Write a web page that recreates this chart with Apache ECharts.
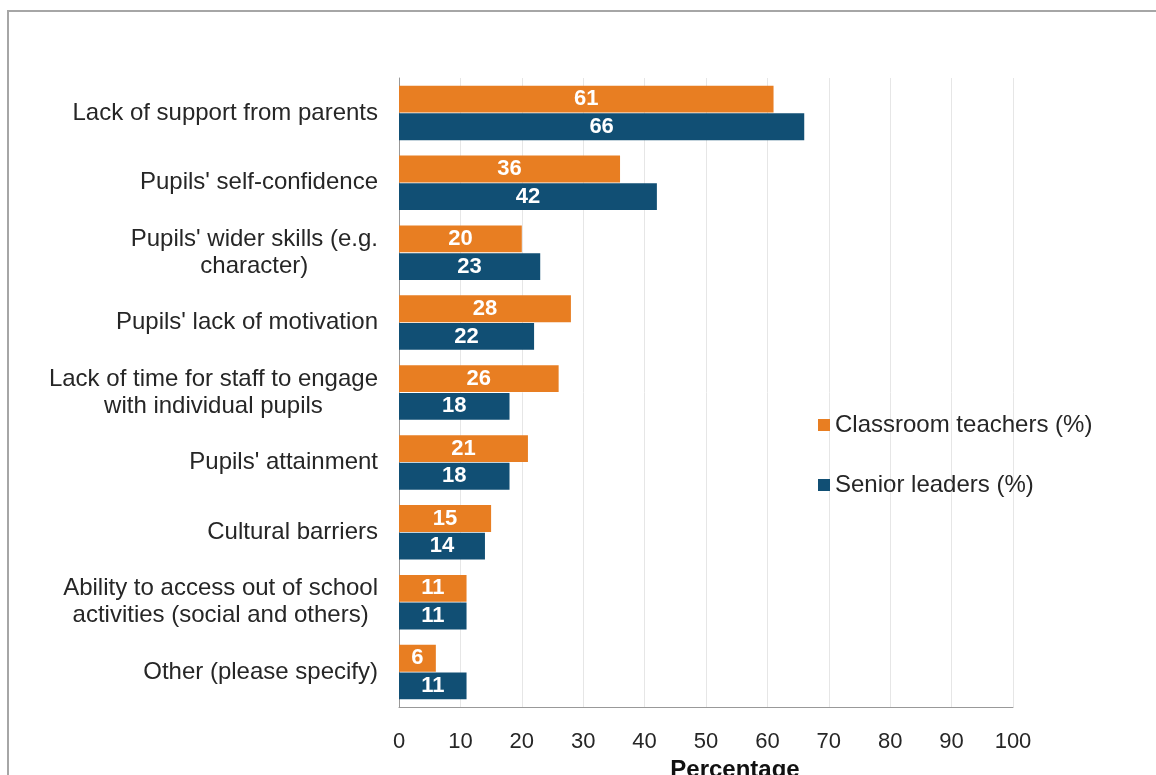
<!DOCTYPE html>
<html>
<head>
<meta charset="utf-8">
<script src="https://cdn.jsdelivr.net/npm/echarts@6/dist/echarts.min.js"></script>
<style>
  html, body { margin: 0; padding: 0; background: #fff; }
  #chart { width: 1156px; height: 775px; }
</style>
</head>
<body>
<div id="chart"></div>
<script>
// categories, top to bottom
const categories = [
  'Lack of support from parents',
  "Pupils' self-confidence",
  "Pupils' wider skills (e.g.\ncharacter)",
  "Pupils' lack of motivation",
  'Lack of time for staff to engage\nwith individual pupils',
  "Pupils' attainment",
  'Cultural barriers',
  'Ability to access out of school\nactivities (social and others)',
  'Other (please specify)'
]
const teachers = [61, 36, 20, 28, 26, 21, 15, 11, 6]
const leaders = [66, 42, 23, 22, 18, 18, 14, 11, 11]
const seriesNames = ['Classroom teachers (%)', 'Senior leaders (%)']
const xTicks = [0, 100, 10] // min, max, interval

const chart = echarts.init(document.getElementById('chart'))
const font = 'Liberation Sans, Arial, sans-serif'
const barLabel = {
  show: true,
  position: 'inside',
  color: '#fff',
  fontWeight: 'bold',
  fontSize: 22,
  fontFamily: font
}

chart.setOption({
  animation: false,
  graphic: [{
    type: 'polyline',
    shape: { points: [[8, 775], [8, 11], [1156, 11]] },
    style: { stroke: '#a6a6a6', lineWidth: 2, fill: null }
  }],
  grid: { left: 399, right: 143, top: 78, bottom: 68, outerBoundsMode: 'none', containLabel: false },
  legend: {
    orient: 'vertical',
    left: 813,
    top: 408,
    itemGap: 36,
    itemWidth: 12,
    itemHeight: 12,
    icon: 'rect',
    textStyle: { fontSize: 24, color: '#262626', fontFamily: font },
    data: seriesNames
  },
  xAxis: {
    type: 'value',
    min: xTicks[0],
    max: xTicks[1],
    interval: xTicks[2],
    name: 'Percentage',
    nameLocation: 'middle',
    nameGap: 47,
    nameTextStyle: { fontSize: 24, fontWeight: 'bold', color: '#111', fontFamily: font, padding: [0, 0, 0, 58] },
    axisLine: { show: true, lineStyle: { color: '#999' } },
    axisTick: { show: false },
    axisLabel: { fontSize: 22, color: '#262626', fontFamily: font, margin: 24 },
    splitLine: { show: true, lineStyle: { color: '#e6e6e6' } }
  },
  yAxis: {
    type: 'category',
    inverse: true,
    data: categories,
    axisLine: { show: true, lineStyle: { color: '#999' } },
    axisTick: { show: false },
    axisLabel: {
      margin: 21,
      color: '#262626',
      fontSize: 24,
      fontFamily: font,
      lineHeight: 27,
      formatter: v => v.split('\n').map(s => '{c|' + s + '}').join('\n'),
      rich: { c: { align: 'center', fontSize: 24, lineHeight: 27, fontFamily: font, color: '#262626' } }
    }
  },
  series: [{
    name: seriesNames[0],
    type: 'bar',
    data: teachers,
    barGap: '3%',
    barCategoryGap: '22%',
    itemStyle: { color: '#e87e22' },
    label: barLabel
  }, {
    name: seriesNames[1],
    type: 'bar',
    data: leaders,
    itemStyle: { color: '#114f74' },
    label: barLabel
  }]
})
</script>
</body>
</html>
